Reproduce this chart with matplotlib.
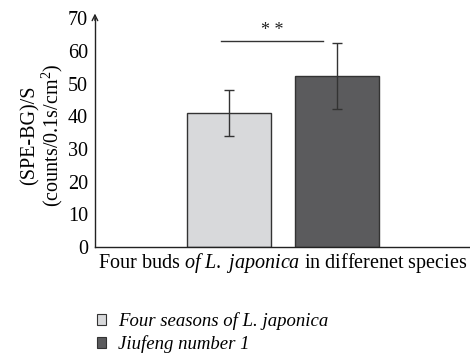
import matplotlib
matplotlib.use("Agg")
import matplotlib.pyplot as plt
from matplotlib.patches import Patch

plt.rcParams['font.family'] = ['Liberation Serif', 'DejaVu Serif']
plt.rcParams['mathtext.fontset'] = 'custom'
plt.rcParams['mathtext.rm'] = 'Liberation Serif'
plt.rcParams['mathtext.it'] = 'Liberation Serif:italic'

series = ["Four seasons of L. japonica", "Jiufeng number 1"]
values = [41.0, 52.2]
errors_low = [7.0, 9.9]
errors_high = [7.1, 10.1]
colors = ["#d8d9db", "#5b5b5d"]
yticks = [0, 10, 20, 30, 40, 50, 60, 70]
sig_text = "* *"
sig_level = 63.0

fig = plt.figure(figsize=(4.7, 3.55), dpi=100)
ax = fig.add_axes([0.202, 0.304, 0.798, 0.645])

x = [0, 1]
ax.bar(x, values, width=0.775, color=colors, edgecolor="#333333", linewidth=1.0, zorder=2)
ax.errorbar(x, values, yerr=[errors_low, errors_high], fmt='none', ecolor="#333333",
            elinewidth=1.0, capsize=3.3, capthick=1.0, zorder=3)

ax.set_xlim(-1.232, 2.224)
ax.set_ylim(0, 70)
ax.set_yticks(yticks)
ax.set_yticklabels([str(t) for t in yticks], fontsize=14.5)
ax.tick_params(axis='y', length=0, pad=5)
ax.set_xticks([])
for s in ['top', 'right']:
    ax.spines[s].set_visible(False)
ax.spines['left'].set_color("#222222")
ax.spines['bottom'].set_color("#222222")
ax.spines['left'].set_linewidth(1.0)
ax.spines['bottom'].set_linewidth(1.0)

# arrow at top of y axis
ax.annotate("", xy=(0, 1.02), xycoords='axes fraction', xytext=(0, 0.99),
            arrowprops=dict(arrowstyle='->', color="#222222", lw=1.0, shrinkA=0, shrinkB=0))

# significance bar
ax.plot([-0.07, 0.865], [sig_level, sig_level], color="#333333", lw=1.0, zorder=3, clip_on=False)
ax.text(0.4, sig_level + 0.6, sig_text, ha='center', va='bottom', fontsize=13, color="#222222")

ax.set_xlabel("Four buds $\\mathit{of\\ L.\\ japonica}$ in differenet species", fontsize=14.5)
ax.xaxis.set_label_coords(0.501, -0.015, transform=ax.transAxes)
ax.xaxis.label.set_va('top')
ax.set_ylabel("(SPE-BG)/S\n(counts/0.1s/cm$^2$)", fontsize=14.5, linespacing=1.0)
ax.yaxis.set_label_coords(-0.14, 0.49, transform=ax.transAxes)
ax.yaxis.label.set_va('center')

handles = [Patch(facecolor=c, edgecolor="#333333", linewidth=0.8) for c in colors]
leg = fig.legend(handles, series, loc='upper left', bbox_to_anchor=(0.17, 0.167),
                 frameon=False, handlelength=0.5, handleheight=0.5, handletextpad=0.65,
                 labelspacing=0.25, prop={'style': 'italic', 'size': 13.5})

fig.savefig("out.png", dpi=100)
